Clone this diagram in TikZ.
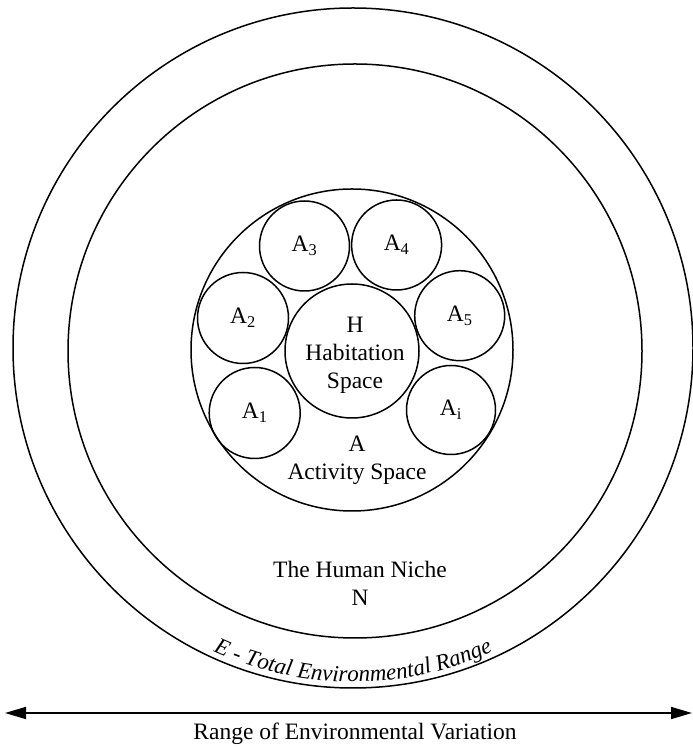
\documentclass[tikz,border=0pt]{standalone}
\usepackage{fontspec}
\setmainfont{Liberation Serif}
\usetikzlibrary{decorations.text,arrows.meta}
\newcommand\etfont{\fontsize{23}{23}\selectfont\itshape}
\begin{document}
\begin{tikzpicture}[x=1pt,y=1pt,
  ring/.style={draw, line width=1.5pt, circle, inner sep=0pt},
  lbl/.style={font=\fontsize{23.5}{28}\selectfont, align=center, inner sep=0pt},
  rangearrow/.style={line width=1.7pt, {Triangle[length=21pt,width=12pt]}-{Triangle[length=21pt,width=12pt]}}
]
\useasboundingbox (0,0) rectangle (693,747);
% concentric rings
\node[ring, minimum size=680pt] (E) at (353,399) {};
\node[ring, minimum size=574pt] (N) at (355,396) {};
\node[ring, minimum size=322pt] (A) at (352,397) {};
\node[ring, minimum size=134pt] (H) at (352,396) {};
% activity circles
\node[ring, minimum size=90pt, lbl] (A3) at (304.5,501) {A\textsubscript{3}};
\node[ring, minimum size=90pt, lbl] (A4) at (396.6,502) {A\textsubscript{4}};
\node[ring, minimum size=91pt, lbl] (A2) at (243,429) {A\textsubscript{2}};
\node[ring, minimum size=90pt, lbl] (A5) at (459.7,431.3) {A\textsubscript{5}};
\node[ring, minimum size=91pt, lbl] (A1) at (254.7,334) {A\textsubscript{1}};
\node[ring, minimum size=89pt, lbl] (Ai) at (451,337) {A\textsubscript{i}};
% labels
\node[lbl] (Hlbl) at (355,392) {H\\Habitation\\Space};
\node[lbl] (Albl) at (357,287) {A\\Activity Space};
\node[lbl] (Nlbl) at (360,164) {The Human Niche\\N};
% curved label
\path[decorate, decoration={text along path, text align=center,
  text={|\etfont|E - Total Environmental Range}}]
  (353,399) ++(234:334) arc[start angle=234, end angle=306, radius=334];
% range arrow
\coordinate (L) at (5,34);
\coordinate (R) at (692,34);
\draw[rangearrow] (L) -- (R);
\node[lbl] (range) at (355,13) {Range of Environmental Variation};
\end{tikzpicture}
\end{document}
